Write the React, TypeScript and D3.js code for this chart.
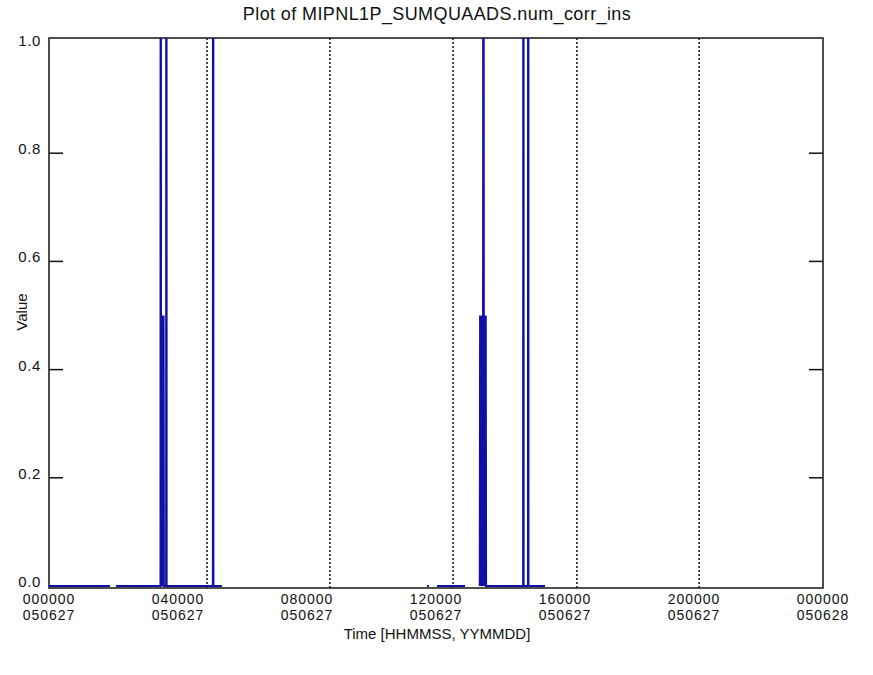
import * as d3 from 'd3';

// time in hours after 000000 050627, null value = data gap
const times: number[] = [
  0, 1.89, 1.9, 2.08, 3.46, 3.465, 3.47, 3.48, 3.49, 3.5, 3.51, 3.52, 3.53, 3.54, 3.55, 3.56, 3.57,
  3.635, 3.64, 3.645, 5.085, 5.09, 5.095, 5.36, 5.37,
  11.72, 11.78, 11.79,
  12.03, 12.9, 12.91,
  13.36, 13.37, 13.38, 13.39, 13.4, 13.41, 13.42, 13.43, 13.44, 13.45, 13.46, 13.47, 13.48, 13.49,
  13.5, 13.51, 13.52, 13.53, 13.54, 13.55, 13.56, 14.705, 14.71, 14.715, 14.855, 14.86, 14.865, 15.38,
];
const values: (number | null)[] = [
  0, 0, null, 0, 0, 2, 0.5, 0, 0.5, 0, 0.5, 0, 0.5, 0, 0.5, 0, 0,
  0, 2, 0, 0, 2, 0, 0, null,
  0, 0, null,
  0, 0, null,
  0, 0.5, 0, 0.5, 0, 0.5, 0, 0.5, 0, 0.5, 0, 2, 0.5, 0,
  0.5, 0, 0.5, 0, 0.5, 0, 0, 0, 2, 0, 0, 2, 0, 0,
];

// dotted marker lines (hours)
const markerTimes = [4.9, 8.71, 12.53, 16.37, 20.16];

const xTicks = [0, 4, 8, 12, 16, 20, 24];
const xTickTop = ['000000', '040000', '080000', '120000', '160000', '200000', '000000'];
const xTickBottom = ['050627', '050627', '050627', '050627', '050627', '050627', '050628'];
const yTicks = [0, 0.2, 0.4, 0.6, 0.8, 1.0];

const W = 873;
const H = 675;
const frame = { left: 49, right: 823, top: 38, bottom: 588 };

export default function App() {
  const { left, right, top, bottom } = frame;
  const x = d3.scaleLinear().domain([0, 24]).range([left, right]);
  const y = d3.scaleLinear().domain([0, 1]).range([586, 45]);

  const pts = times.map((t, i) => ({ t, v: values[i] }));
  const line = d3
    .line<{ t: number; v: number | null }>()
    .defined(d => d.v !== null)
    .x(d => x(d.t))
    .y(d => y(d.v as number));

  const font = 'Liberation Sans, Arial, sans-serif';
  const tickLen = 14;

  return (
    <svg width={W} height={H} style={{ position: 'absolute', left: 0, top: 0, background: '#fff' }} fontFamily={font}>
      <rect x={0} y={0} width={W} height={H} fill="#fff" />
      <text x={437} y={20} textAnchor="middle" fontSize={18} letterSpacing={0.4} fill="#111">
        Plot of MIPNL1P_SUMQUAADS.num_corr_ins
      </text>

      {markerTimes.map(t => (
        <line key={t} x1={x(t)} x2={x(t)} y1={top} y2={bottom} stroke="#111" strokeWidth={1.5} strokeDasharray="2,2" />
      ))}

      {yTicks.slice(1, -1).map(v => (
        <g key={v}>
          <line x1={left} x2={left + tickLen} y1={y(v)} y2={y(v)} stroke="#111" strokeWidth={1.5} />
          <line x1={right - tickLen} x2={right} y1={y(v)} y2={y(v)} stroke="#111" strokeWidth={1.5} />
        </g>
      ))}

      <rect x={left} y={top} width={right - left} height={bottom - top} fill="none" stroke="#222" strokeWidth={1.6} />

      <clipPath id="plotclip">
        <rect x={left} y={top} width={right - left} height={bottom - top + 1} />
      </clipPath>
      <path d={line(pts) || ''} fill="none" stroke="#1010a8" strokeWidth={2.2} clipPath="url(#plotclip)" />

      {yTicks.map(v => (
        <text key={v} x={41} y={y(v) + 1} textAnchor="end" fontSize={15} letterSpacing={0.6} fill="#111">
          {v.toFixed(1)}
        </text>
      ))}

      {xTicks.map((t, i) => (
        <g key={i}>
          <text x={x(t)} y={604} textAnchor="middle" fontSize={14} letterSpacing={1} fill="#111">{xTickTop[i]}</text>
          <text x={x(t)} y={620} textAnchor="middle" fontSize={14} letterSpacing={1} fill="#111">{xTickBottom[i]}</text>
        </g>
      ))}

      <text x={437} y={639} textAnchor="middle" fontSize={15} fill="#111">
        Time [HHMMSS, YYMMDD]
      </text>
      <text transform={`translate(27,312) rotate(-90)`} textAnchor="middle" fontSize={15} fill="#111">
        Value
      </text>
    </svg>
  );
}
